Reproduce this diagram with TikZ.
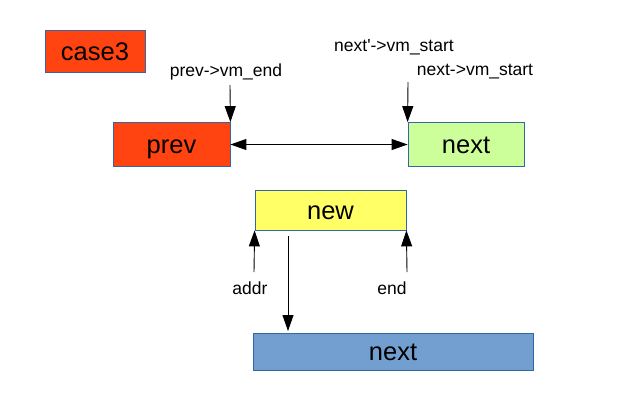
\documentclass[tikz,border=0pt]{standalone}
\usepackage{fontspec}
\setmainfont{Liberation Sans}
\usetikzlibrary{arrows.meta}
\definecolor{redbox}{HTML}{FF4411}
\definecolor{greenbox}{HTML}{CCFF99}
\definecolor{yellowbox}{HTML}{FFFF66}
\definecolor{bluebox}{HTML}{729FCF}
\definecolor{boxline}{HTML}{3465A4}
\tikzset{
  box/.style={draw=boxline, line width=0.8pt, inner sep=0pt, text height=18.5pt, text depth=0pt, font=\fontsize{25.5}{28}\selectfont},
  lbl/.style={inner sep=0pt, font=\fontsize{17.5}{20}\selectfont},
  arr/.style={draw=black, line width=0.9pt, -{Triangle[width=11pt,length=16pt]}},
  darr/.style={draw=black, line width=0.9pt, {Triangle[width=11pt,length=16pt]}-{Triangle[width=11pt,length=16pt]}}
}
\begin{document}
\begin{tikzpicture}[x=1pt,y=-1pt]
\useasboundingbox (0,0) rectangle (626,410);
\node[box, fill=redbox, minimum width=100pt, minimum height=42pt] (case) at (95,51) {case3};
\node[box, fill=redbox, minimum width=117pt, minimum height=44pt] (prev) at (171.5,144.5) {prev};
\node[box, fill=greenbox, minimum width=116pt, minimum height=44pt] (next) at (466,144.5) {next};
\node[box, fill=yellowbox, minimum width=151pt, minimum height=40pt] (new) at (330.5,210) {new};
\node[box, fill=bluebox, minimum width=280pt, minimum height=37pt] (next2) at (393,351.5) {next};
\node[lbl] (lprev) at (226,72) {prev->vm\_end};
\node[lbl] (lnextp) at (394,47) {next\textquotesingle->vm\_start};
\node[lbl] (lnext) at (475,72) {next->vm\_start};
\node[lbl] (laddr) at (250,288) {addr};
\node[lbl] (lend) at (392,288) {end};
\coordinate (p1) at (230,85);
\coordinate (n1) at (408,82);
\coordinate (a1) at (254,272);
\coordinate (e1) at (407,272);
\coordinate (d1) at (288,236);
\coordinate (d2) at (288,331);
\draw[arr] (p1) -- (prev.north east);
\draw[arr] (n1) -- (next.north west);
\draw[darr] (prev.east) -- (next.west);
\draw[arr] (a1) -- (new.south west);
\draw[arr] (e1) -- (new.south east);
\draw[arr] (d1) -- (d2);
\end{tikzpicture}
\end{document}
